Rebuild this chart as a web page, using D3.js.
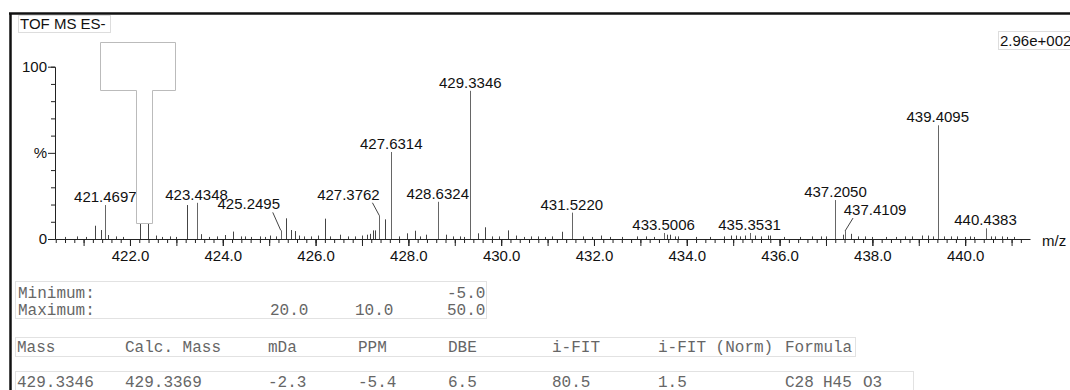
<!DOCTYPE html>
<html>
<head>
<meta charset="utf-8">
<script src="https://cdn.jsdelivr.net/npm/d3@7"></script>
<style>
  body { margin: 0; background: #fff; }
  svg { display: block; }
  .axis text { font-family: "Liberation Sans", Arial, sans-serif; font-size: 15px; fill: #111; }
  .axis path, .axis line { stroke: #222; }
  .lbl { font-family: "Liberation Sans", Arial, sans-serif; font-size: 15px; fill: #111; }
  .tbl { font-family: "Liberation Mono", "Courier New", monospace; font-size: 16px; fill: #666; }
</style>
</head>
<body>
<div id="chart"></div>
<script>
// labelled peaks (m/z, % intensity)
const peakMz  = [421.4697, 423.4348, 425.2495, 427.3762, 427.6314, 428.6324, 429.3346, 431.5220, 433.5006, 435.3531, 437.2050, 437.4109, 439.4095, 440.4383]
const peakInt = [19.7, 21.0, 5.0, 13.5, 50.5, 21.6, 86.0, 15.3, 3.5, 3.5, 22.6, 4.6, 66.0, 6.2]

// unlabelled peaks
const minorMz  = [420.60, 420.85, 421.05, 421.25, 421.37, 421.53, 421.70, 421.85, 422.22, 422.39, 422.57, 422.70, 422.86, 423.00, 423.22, 423.54, 423.70, 423.87,
                  424.05, 424.21, 424.40, 424.48, 424.60, 424.80, 424.90, 425.02, 425.15, 425.37, 425.46, 425.56, 425.65, 425.75, 425.90, 426.05, 426.20, 426.31,
                  426.53, 426.70, 426.85, 427.00, 427.10, 427.18, 427.23, 427.28, 427.50, 427.80, 427.96, 428.14, 428.25, 428.38, 428.81, 428.97, 429.11, 429.20,
                  429.49, 429.65, 429.80, 429.95, 430.15, 430.33, 430.50, 430.65, 430.80, 430.95, 431.10, 431.32, 431.77, 431.95, 432.15, 432.35, 432.60, 432.92,
                  433.12, 433.30, 433.57, 433.64, 433.75, 433.82, 434.20, 434.50, 434.80, 434.95, 435.05, 435.15, 435.25, 435.47, 435.60, 435.75, 435.80, 436.10,
                  436.45, 436.70, 436.90, 437.00, 437.37, 437.55, 437.70, 437.85, 438.00, 438.30, 438.50, 438.70, 438.85, 439.06, 439.20, 439.30, 439.55, 439.70,
                  439.82, 440.00, 440.10, 440.20, 440.55, 440.65, 440.80, 440.90, 441.05]
const minorInt = [1.2, 1.5, 1.2, 7.7, 5.2, 2.3, 1.5, 1.2, 40, 35, 2.0, 1.2, 1.5, 1.2, 19.7, 2.8, 1.2, 1.5,
                  2.3, 4.3, 1.5, 1.5, 1.2, 1.5, 1.2, 2.0, 1.5, 12.0, 5.2, 4.6, 2.0, 1.5, 1.5, 2.0, 11.8, 1.5,
                  2.5, 1.5, 1.5, 2.0, 2.5, 3.0, 5.0, 5.0, 11.4, 1.5, 3.3, 4.8, 1.5, 2.5, 2.5, 1.5, 1.5, 1.2,
                  3.3, 6.8, 1.5, 1.5, 5.0, 2.0, 1.2, 1.5, 1.5, 1.2, 1.5, 4.2, 1.5, 1.2, 2.0, 1.2, 1.2, 1.5,
                  1.5, 1.2, 2.5, 2.5, 1.5, 1.5, 1.2, 1.2, 1.5, 2.0, 2.0, 1.5, 2.0, 2.0, 1.5, 2.0, 2.0, 1.2,
                  1.2, 1.5, 1.5, 1.5, 2.5, 3.0, 1.5, 1.5, 1.2, 1.2, 1.2, 1.5, 1.5, 2.0, 2.0, 1.5, 1.5, 1.5,
                  1.5, 1.2, 1.5, 1.2, 1.5, 1.5, 1.5, 1.2, 1.2]

const xTickValues = [422, 424, 426, 428, 430, 432, 434, 436, 438, 440]
const xTickLabels = ["422.0", "424.0", "426.0", "428.0", "430.0", "432.0", "434.0", "436.0", "438.0", "440.0"]
const yTickValues = [0, 10, 20, 30, 40, 50, 60, 70, 80, 90, 100]
const yTickLabels = {0: "0", 50: "%", 100: "100"}

const limitRows = [["Minimum:", "", "", "-5.0"], ["Maximum:", "20.0", "10.0", "50.0"]]
const headerCells = ["Mass", "Calc. Mass", "mDa", "PPM", "DBE", "i-FIT", "i-FIT (Norm)", "Formula"]
const resultCells = ["429.3346", "429.3369", "-2.3", "-5.4", "6.5", "80.5", "1.5", "C28", "H45", "O3"]

const W = 1070, H = 390

var svg = d3.select("#chart").append("svg")
            .attr("width", W).attr("height", H)

svg.append("rect").attr("width", W).attr("height", H).attr("fill", "#fff")

var x = d3.scaleLinear().domain([420.384, 441.397]).range([55, 1030])
var y = d3.scaleLinear().domain([0, 100]).range([239, 66.7])

// frame
svg.append("line").attr("x1", 9).attr("x2", W).attr("y1", 13.5).attr("y2", 13.5)
   .attr("stroke", "#111").attr("stroke-width", 2.5)
svg.append("line").attr("x1", 10.5).attr("x2", 10.5).attr("y1", 13).attr("y2", H)
   .attr("stroke", "#111").attr("stroke-width", 2.5)

// peaks
var peaks = svg.append("g")
peaks.selectAll("line.minor")
   .data(minorMz.map((m, i) => ({mz: m, v: minorInt[i]})))
   .enter().append("line")
   .attr("class", "minor")
   .attr("x1", d => Math.round(x(d.mz)) + 0.5).attr("x2", d => Math.round(x(d.mz)) + 0.5)
   .attr("y1", y(0)).attr("y2", d => y(d.v))
   .attr("stroke", "#444")

var main = peakMz.map((m, i) => ({mz: m, v: peakInt[i]}))
peaks.selectAll("line.main")
   .data(main)
   .enter().append("line")
   .attr("class", "main")
   .attr("x1", d => Math.round(x(d.mz)) + 0.5).attr("x2", d => Math.round(x(d.mz)) + 0.5)
   .attr("y1", y(0)).attr("y2", d => y(d.v))
   .attr("stroke", "#666")

// x axis: fine ticks, unit ticks, labelled ticks
var fine = d3.range(420.4, 441.3, 0.2)
var units = d3.range(421, 442, 1)
svg.append("g").attr("class", "axis")
   .attr("transform", "translate(0," + y(0) + ")")
   .call(d3.axisBottom(x).tickValues(fine).tickSize(4).tickSizeOuter(0).tickFormat(""))
svg.append("g").attr("class", "axis")
   .attr("transform", "translate(0," + y(0) + ")")
   .call(d3.axisBottom(x).tickValues(units).tickSize(7).tickSizeOuter(0).tickFormat(""))
   .select(".domain").remove()
var gx = svg.append("g").attr("class", "axis")
   .attr("transform", "translate(0," + y(0) + ")")
   .call(d3.axisBottom(x).tickValues(xTickValues).tickSize(7).tickSizeOuter(0)
          .tickFormat((d, i) => xTickLabels[i]))
gx.select(".domain").remove()
gx.selectAll(".tick text").attr("y", 11).attr("dy", "0.71em")

svg.append("text").attr("class", "lbl").attr("x", 1042).attr("y", 246).text("m/z")

// y axis
var gy = svg.append("g").attr("class", "axis")
   .attr("transform", "translate(55,0)")
   .call(d3.axisLeft(y).tickValues(yTickValues).tickSizeOuter(0)
          .tickSize(4).tickFormat(d => yTickLabels[d] || ""))
gy.selectAll(".tick line").attr("x2", d => yTickLabels[d] ? -7 : -4)
gy.selectAll(".tick text").attr("x", -8)

// peak labels
const leaders = {"425.2495": [-32, -16], "427.3762": [-31, -11], "437.4109": [30, -11]}
var lab = svg.append("g")
main.forEach(function(d) {
  var key = d.mz.toFixed(4), px = x(d.mz), py = y(d.v)
  var off = leaders[key]
  if (off) {
    var lx = px + off[0], ly = py + off[1]
    lab.append("text").attr("class", "lbl").attr("text-anchor", "middle")
       .attr("x", lx).attr("y", ly - 5).text(key)
    var sx = off[0] < 0 ? lx + 24 : lx - 22
    lab.append("line").attr("x1", sx).attr("y1", ly - 2).attr("x2", px).attr("y2", py)
       .attr("stroke", "#444")
  } else {
    lab.append("text").attr("class", "lbl").attr("text-anchor", "middle")
       .attr("x", px).attr("y", py - 3).text(key)
  }
})

// white T-shaped patch
svg.append("path")
   .attr("d", "M100.5,42.5H175.5V90.5H152.5V223.5H136.5V90.5H100.5Z")
   .attr("fill", "#fff").attr("stroke", "#bbb")

// title boxes
svg.append("rect").attr("x", 18.5).attr("y", 15.5).attr("width", 92).attr("height", 17)
   .attr("fill", "#fff").attr("stroke", "#ddd")
svg.append("text").attr("class", "lbl").attr("x", 20).attr("y", 29).text("TOF MS ES-")
svg.append("rect").attr("x", 998.5).attr("y", 31.5).attr("width", 75).attr("height", 18)
   .attr("fill", "#fff").attr("stroke", "#ddd")
svg.append("text").attr("class", "lbl").attr("x", 1000).attr("y", 45.5).text("2.96e+002")

// tables
var tbl = svg.append("g")
tbl.append("rect").attr("x", 15.5).attr("y", 281.5).attr("width", 471).attr("height", 37)
   .attr("fill", "none").attr("stroke", "#e2e2e2")
const limitX = [18, 270, 355, 447]
limitRows.forEach(function(row, r) {
  row.forEach(function(c, i) {
    tbl.append("text").attr("class", "tbl").attr("x", limitX[i]).attr("y", 298 + r * 17).text(c)
  })
})

tbl.append("rect").attr("x", 15.5).attr("y", 337.5).attr("width", 840).attr("height", 19)
   .attr("fill", "none").attr("stroke", "#e2e2e2")
const headX = [17, 125, 268, 358, 448, 552, 658, 785]
headerCells.forEach(function(c, i) {
  tbl.append("text").attr("class", "tbl").attr("x", headX[i]).attr("y", 352).text(c)
})

tbl.append("rect").attr("x", 15.5).attr("y", 371.5).attr("width", 898).attr("height", 30)
   .attr("fill", "none").attr("stroke", "#e2e2e2")
const resX = [17, 125, 268, 358, 448, 552, 658, 785, 823, 863]
resultCells.forEach(function(c, i) {
  tbl.append("text").attr("class", "tbl").attr("x", resX[i]).attr("y", 386.5).text(c)
})
</script>
</body>
</html>
